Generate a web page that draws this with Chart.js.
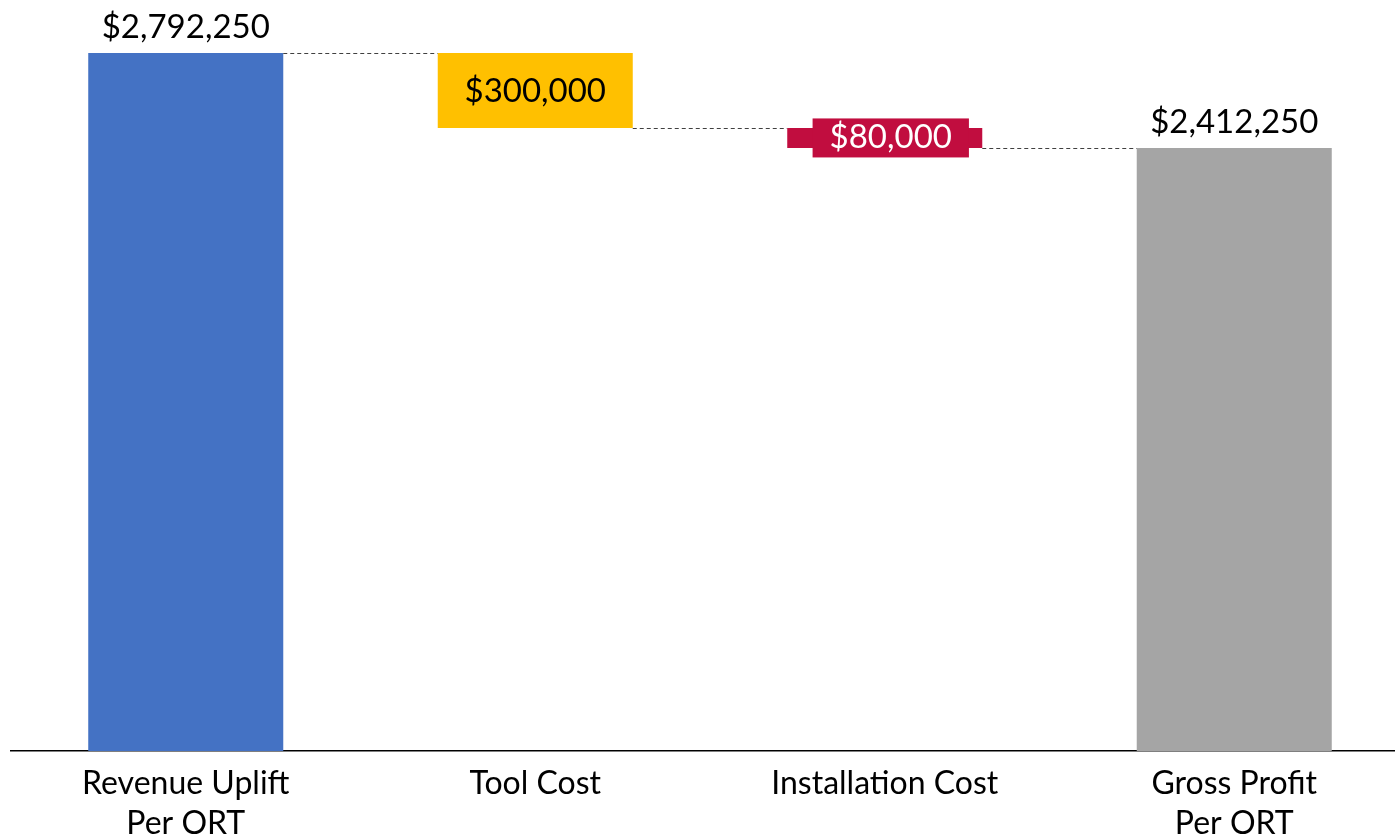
<!DOCTYPE html>
<html>
<head>
<meta charset="utf-8">
<script src="https://cdn.jsdelivr.net/npm/chart.js@4.4.1/dist/chart.umd.min.js"></script>
<style>
  html, body { margin: 0; padding: 0; background: #fff; overflow: hidden; }
  canvas { display: block; }
</style>
</head>
<body>
<canvas id="waterfall" width="1410" height="838"></canvas>
<script>
// chart data
const categories = [['Revenue Uplift', 'Per ORT'], 'Tool Cost', 'Installation Cost', ['Gross Profit', 'Per ORT']];
const amounts = [2792250, -300000, -80000, 2412250];
const kinds = ['total', 'step', 'step', 'total'];
const colors = ['#4472C4', '#FFC000', '#C10D3F', '#A5A5A5'];

// floating bars: totals start at zero, steps hang from the running total
let running = 0;
const ranges = amounts.map((v, i) => {
    if (kinds[i] === 'total') { running = v; return [0, v]; }
    const r = [running + v, running];
    running += v;
    return r;
});

const fmt = v => '$' + Math.abs(v).toLocaleString('en-US');
const FONT = 'Lato, "Open Sans", sans-serif';

const waterfallExtras = {
    id: 'waterfallExtras',
    afterDatasetsDraw(chart) {
        const ctx = chart.ctx;
        const meta = chart.getDatasetMeta(0);
        const y = chart.scales.y;

        // dashed connectors
        ctx.save();
        ctx.strokeStyle = '#404040';
        ctx.lineWidth = 1;
        ctx.setLineDash([4, 3]);
        for (let i = 0; i < meta.data.length - 1; i++) {
            const a = meta.data[i], b = meta.data[i + 1];
            const level = kinds[i] === 'total' ? ranges[i][1] : ranges[i][0];
            const py = Math.round(y.getPixelForValue(level)) + 0.5;
            ctx.beginPath();
            ctx.moveTo(a.x + a.width / 2, py);
            ctx.lineTo(b.x - b.width / 2, py);
            ctx.stroke();
        }
        ctx.restore();

        // value labels
        ctx.save();
        ctx.font = '33px ' + FONT;
        ctx.textAlign = 'center';
        ctx.textBaseline = 'alphabetic';
        meta.data.forEach((bar, i) => {
            const text = fmt(amounts[i]);
            if (kinds[i] === 'total') {
                ctx.fillStyle = '#000';
                ctx.fillText(text, bar.x, bar.y - 15);
            } else {
                const top = y.getPixelForValue(ranges[i][1]);
                const bot = y.getPixelForValue(ranges[i][0]);
                const cy = (top + bot) / 2;
                if (bot - top < 40) {
                    const w = ctx.measureText(text).width + 34;
                    ctx.fillStyle = colors[i];
                    ctx.fillRect(bar.x - w / 2 + 6, cy - 19.5, w, 39);
                    ctx.fillStyle = '#fff';
                    ctx.fillText(text, bar.x + 6, cy + 10);
                } else {
                    ctx.fillStyle = '#000';
                    ctx.fillText(text, bar.x, cy + 12);
                }
            }
        });
        ctx.restore();
    }
};

new Chart(document.getElementById('waterfall'), {
    type: 'bar',
    data: {
        labels: categories,
        datasets: [{
            data: ranges,
            backgroundColor: colors,
            borderWidth: 0,
            barPercentage: 0.558,
            categoryPercentage: 1
        }]
    },
    options: {
        responsive: false,
        animation: false,
        layout: { padding: { left: 11, right: 1, top: 1, bottom: 0 } },
        plugins: {
            legend: { display: false },
            tooltip: { enabled: false }
        },
        scales: {
            y: {
                display: false,
                min: 0,
                max: 3000000
            },
            x: {
                grid: { display: false, drawTicks: false },
                border: { display: true, color: '#000', width: 1.5 },
                ticks: {
                    color: '#000',
                    padding: 13,
                    maxRotation: 0,
                    autoSkip: false,
                    font: { family: FONT, size: 32, lineHeight: 1.25 }
                },
                afterFit(scale) { scale.height = 87; }
            }
        }
    },
    plugins: [waterfallExtras]
});
</script>
</body>
</html>
